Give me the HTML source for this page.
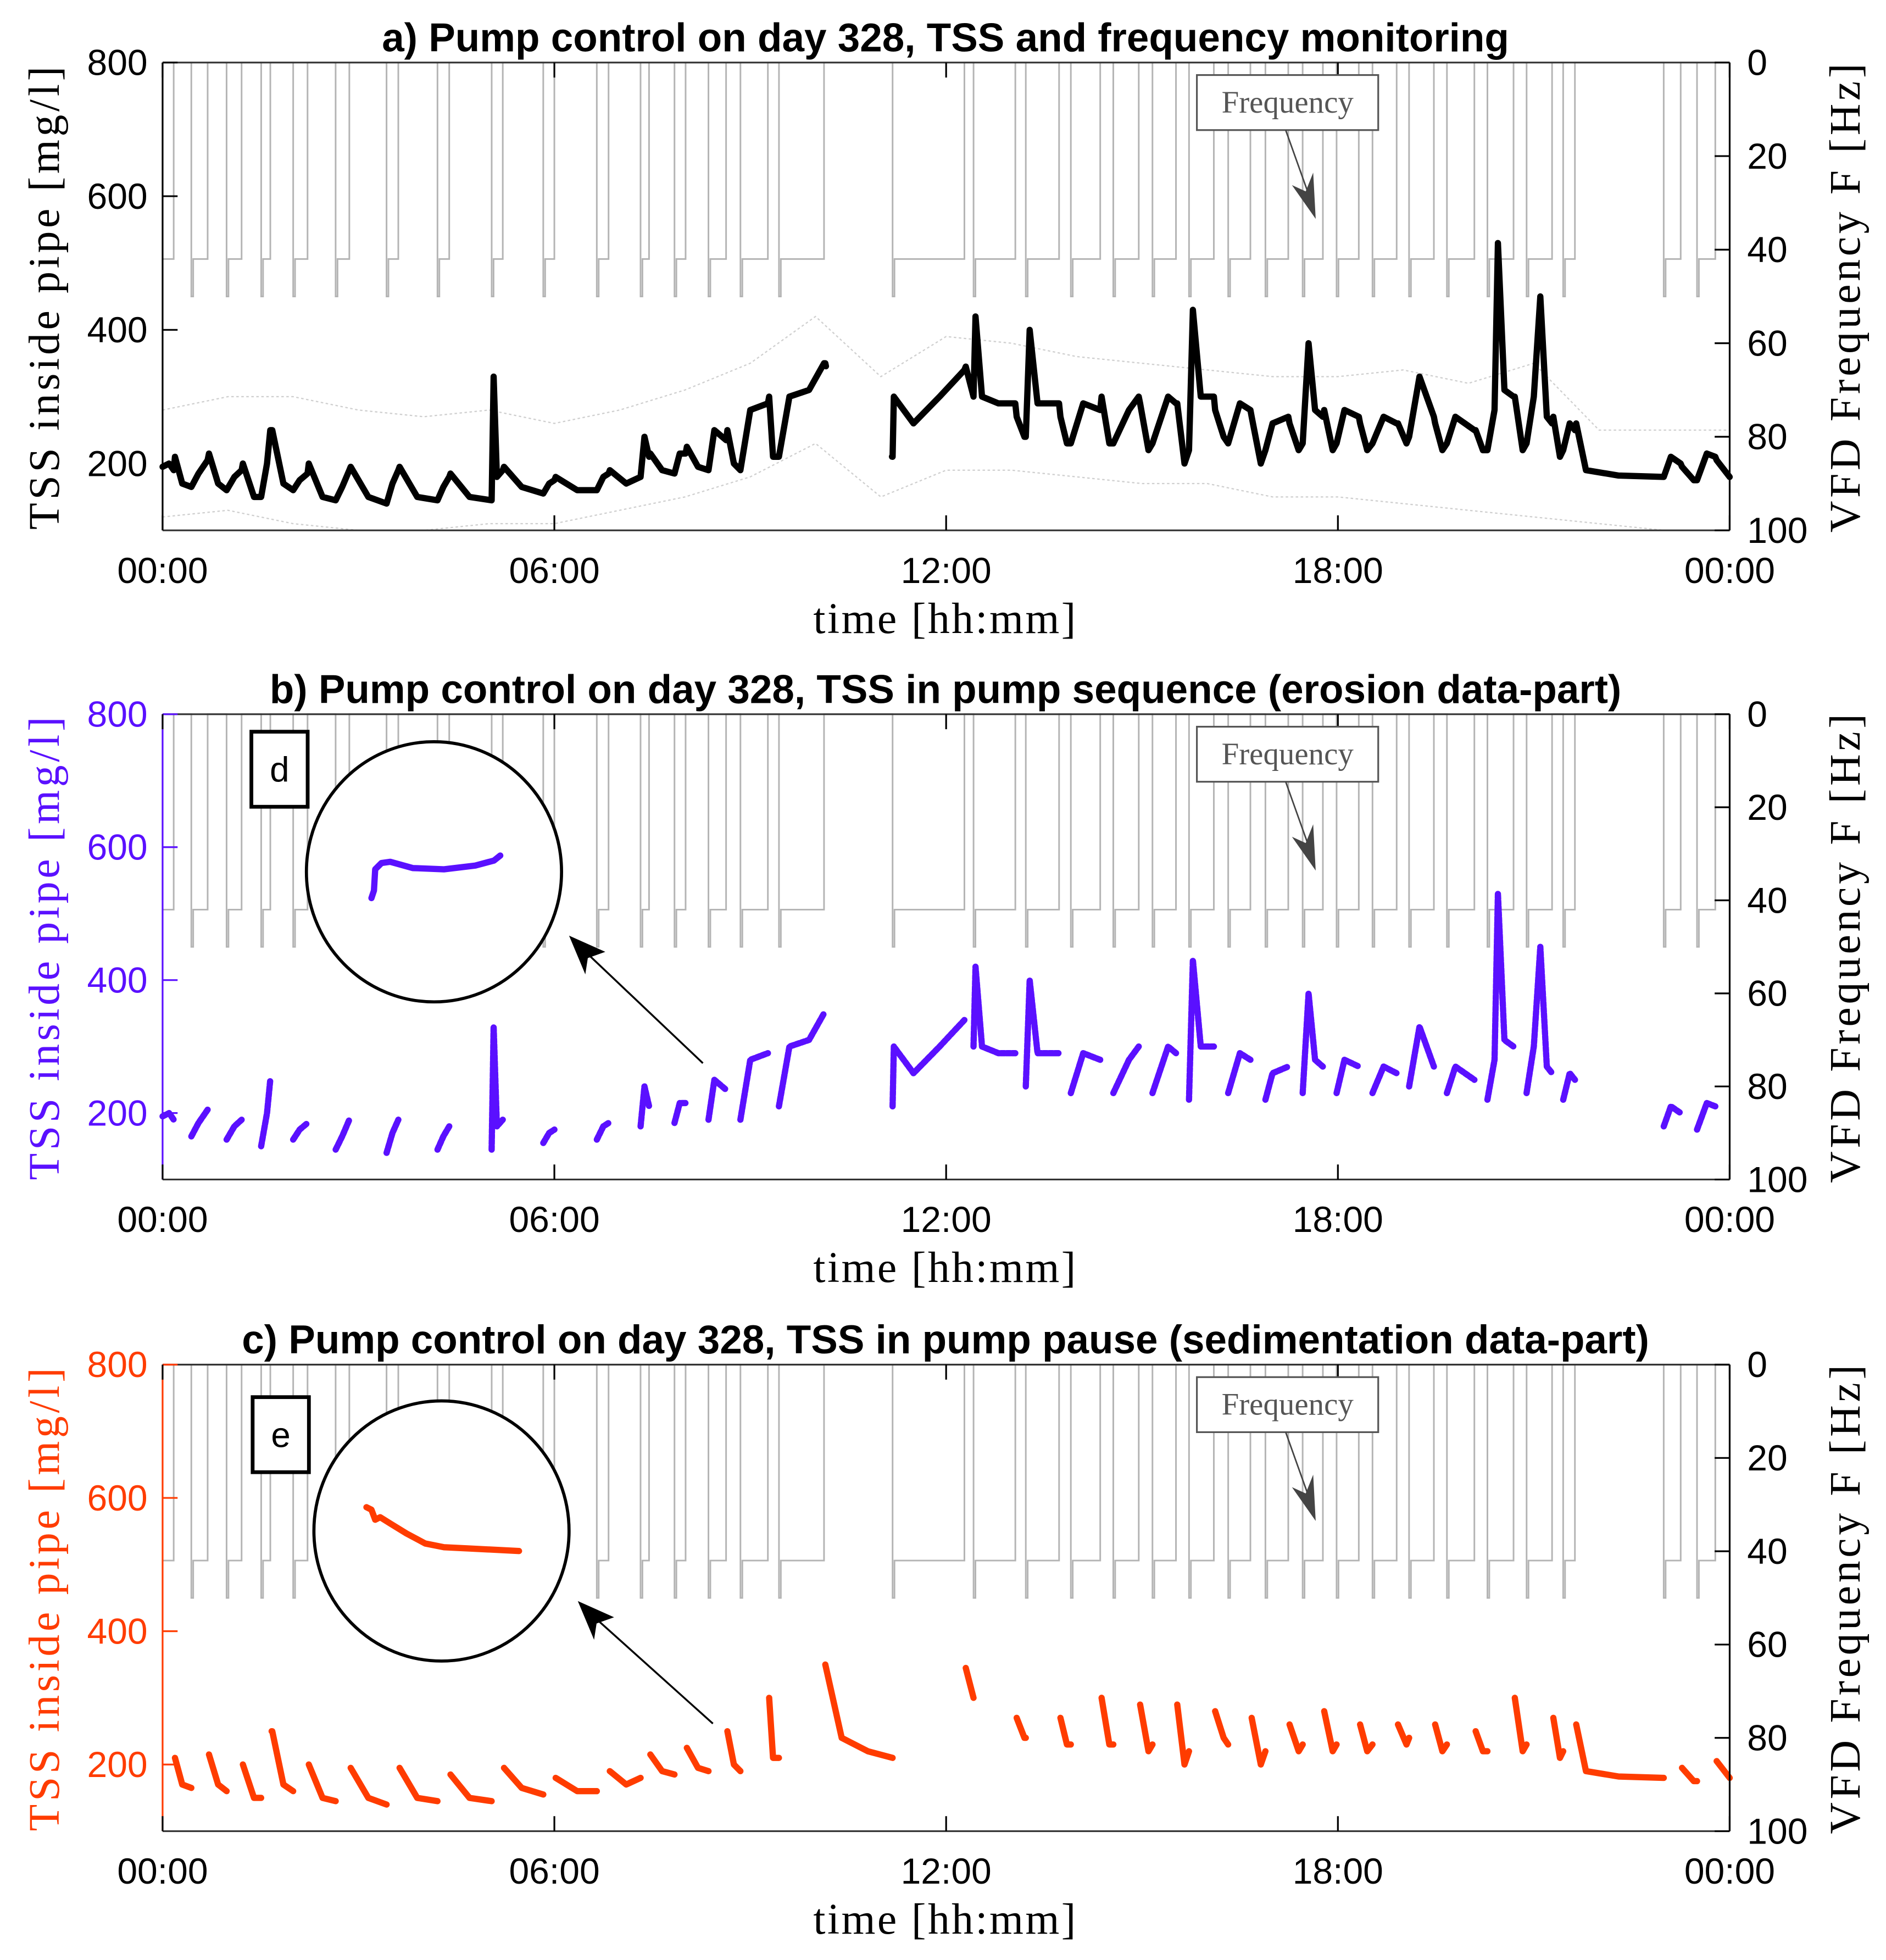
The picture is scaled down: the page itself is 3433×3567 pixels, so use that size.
<!DOCTYPE html>
<html><head><meta charset="utf-8"><style>
html,body{margin:0;padding:0;background:#fff;}
svg{display:block;}
text{font-family:"Liberation Sans",sans-serif;}
.serif{font-family:"Liberation Serif",serif;}
</style></head><body>
<svg id="fig" width="3433" height="3567" viewBox="0 0 1508 1567" preserveAspectRatio="none" xmlns="http://www.w3.org/2000/svg">
</svg>
<script>
// ---- data ----
const tssTimes = [0.00,0.10,0.17,0.19,0.30,0.44,0.55,0.69,0.71,0.85,0.98,1.10,1.21,1.23,1.40,1.51,1.60,1.65,1.68,1.85,2.00,2.10,2.22,2.24,2.45,2.65,2.75,2.86,2.88,3.15,3.43,3.52,3.61,3.63,3.90,4.21,4.30,4.39,4.41,4.70,5.04,5.07,5.12,5.21,5.23,5.50,5.83,5.92,6.00,6.02,6.35,6.65,6.75,6.83,6.85,7.10,7.32,7.38,7.45,7.47,7.65,7.84,7.92,8.01,8.03,8.20,8.36,8.45,8.63,8.65,8.75,8.85,9.00,9.27,9.29,9.35,9.44,9.60,9.90,10.13,10.15,10.40,10.80,11.18,11.20,11.50,11.90,12.28,12.30,12.42,12.45,12.55,12.80,13.06,13.08,13.20,13.22,13.28,13.40,13.73,13.75,13.85,13.91,14.10,14.36,14.38,14.50,14.56,14.80,14.95,14.97,15.10,15.16,15.40,15.52,15.54,15.65,15.72,15.78,15.90,16.10,16.12,16.25,16.32,16.50,16.66,16.68,16.82,16.89,17.00,17.24,17.26,17.40,17.46,17.55,17.65,17.77,17.79,17.92,17.98,18.10,18.32,18.34,18.45,18.53,18.70,18.90,18.92,19.05,19.09,19.25,19.47,19.49,19.60,19.67,19.80,20.09,20.11,20.22,20.29,20.40,20.45,20.55,20.69,20.71,20.83,20.89,21.00,21.10,21.20,21.28,21.30,21.40,21.45,21.55,21.63,21.65,21.80,22.30,22.99,23.10,23.25,23.27,23.45,23.50,23.65,23.78,23.80,24.00];
const tssValues = [195,200,190,210,170,165,185,205,215,170,160,180,190,200,150,150,200,250,250,170,160,175,185,200,150,145,165,190,195,150,140,170,190,195,150,145,165,180,185,150,145,330,180,190,195,165,155,170,175,180,160,160,180,185,190,170,180,240,210,215,190,185,215,215,225,195,190,250,235,250,200,190,280,290,300,210,210,300,310,350,350,240,220,210,300,260,300,340,345,300,420,300,290,290,270,240,240,400,290,290,270,230,230,290,280,300,230,230,280,300,290,220,230,300,290,290,200,220,430,300,300,280,240,230,290,280,270,200,220,260,270,260,220,230,380,280,270,280,220,230,280,270,260,220,230,270,260,260,230,240,330,270,260,220,230,270,250,250,220,220,280,530,310,300,300,220,230,300,450,270,260,270,210,220,260,250,260,190,182,180,210,200,195,175,175,215,210,205,180];
const bandHours = [0,1,2,3,4,5,6,7,8,9,10,11,12,13,14,15,16,17,18,19,20,21,22,23,24];
const bandUpper = [280,300,300,280,270,280,260,280,310,350,420,330,390,380,360,350,340,330,330,340,320,350,250,250,250];
const bandLower = [120,130,110,100,100,110,110,130,150,180,230,150,190,190,180,170,170,150,150,140,130,120,110,100,100];
const pumpStarts = [0,0.44,0.98,1.51,2.0,2.65,3.43,4.21,5.04,5.83,6.65,7.32,7.84,8.36,8.85,9.44,11.18,12.42,13.22,13.91,14.56,15.16,15.72,16.32,16.89,17.46,17.98,18.53,19.09,19.67,20.29,20.89,21.45,22.99,23.5];
const pumpEnds = [0.17,0.69,1.21,1.65,2.22,2.86,3.61,4.39,5.21,6.0,6.83,7.45,8.01,8.63,9.27,10.13,12.28,13.06,13.73,14.36,14.95,15.52,16.1,16.66,17.24,17.77,18.32,18.9,19.47,20.09,20.69,21.28,21.63,23.25,23.78];
const runFreq = 42;
const startFreq = 50;
const leftTicks = [200,400,600,800];
const rightTicks = [0,20,40,60,80,100];
const xTickHours = [0,6,12,18,24];
const xTickLabels = ["00:00","06:00","12:00","18:00","00:00"];

// ---- helpers ----
const NS="http://www.w3.org/2000/svg";
const svg=document.getElementById('fig');
function mk(tag,attrs,parent,txt){const e=document.createElementNS(NS,tag);for(const k in attrs)e.setAttribute(k,attrs[k]);if(txt!==undefined)e.textContent=txt;(parent||svg).appendChild(e);return e;}
const L=130,R=1383;
function X(t){return L+t/24*(R-L);}
function interp(t){for(let i=1;i<tssTimes.length;i++){if(t<=tssTimes[i]){const a=tssTimes[i-1],b=tssTimes[i];const f=(t-a)/(b-a||1);return tssValues[i-1]+f*(tssValues[i]-tssValues[i-1]);}}return tssValues[tssValues.length-1];}
function segPoints(s,e,Y){const pts=[[X(s),Y(interp(s))]];for(let i=0;i<tssTimes.length;i++){if(tssTimes[i]>s&&tssTimes[i]<e)pts.push([X(tssTimes[i]),Y(tssValues[i])]);}pts.push([X(e),Y(interp(e))]);return pts.map(p=>p[0].toFixed(1)+','+p[1].toFixed(1)).join(' ');}

const panels=[
 {id:'a',top:50,bot:424,title:'a) Pump control on day 328, TSS and frequency monitoring',axisColor:'#000',mode:'all',tssColor:'#000'},
 {id:'b',top:571,bot:943,title:'b) Pump control on day 328, TSS in pump sequence (erosion data-part)',axisColor:'#5a10ff',mode:'on',tssColor:'#5a10ff'},
 {id:'c',top:1091,bot:1464,title:'c) Pump control on day 328, TSS in pump pause (sedimentation data-part)',axisColor:'#ff3c00',mode:'off',tssColor:'#ff3c00'}
];

panels.forEach(p=>{
 const g=mk('g',{});
 
 
 const H=p.bot-p.top;
 const Y=v=>p.top+(800-v)/700*H;
 const F=f=>p.top+f/100*H;
 const t=mk('text',{x:756,y:p.top-9,'text-anchor':'middle','font-size':32,'font-weight':'bold'},g,p.title);
 
 
 let d='M'+X(0)+','+F(runFreq);
 for(let i=0;i<pumpStarts.length;i++){
   const s=X(pumpStarts[i]),e=X(pumpEnds[i]);
   if(i>0){d+=' L'+s+','+F(0)+' L'+s+','+F(startFreq)+' L'+(s+1.5)+','+F(startFreq)+' L'+(s+1.5)+','+F(runFreq);}
   d+=' L'+e+','+F(runFreq)+' L'+e+','+F(0);
 }
 d+=' L'+X(24)+','+F(0);
 const fp=mk('path',{d:d,fill:'none',stroke:'#b4b4b4','stroke-width':1.3},g);
 
 
 if(p.mode==='all'){
   const up=mk('polyline',{points:bandHours.map((h,i)=>X(h)+','+Y(bandUpper[i])).join(' '),fill:'none',stroke:'#cfcfcf','stroke-width':1,'stroke-dasharray':'2,2'},g);
   
   
   const lo=mk('polyline',{points:bandHours.map((h,i)=>X(h)+','+Y(bandLower[i])).join(' '),fill:'none',stroke:'#cfcfcf','stroke-width':1,'stroke-dasharray':'2,2'},g);
   
   
   const segs=[[0,10.16],[11.17,24]];
   segs.forEach(sg=>{
     const pl=mk('polyline',{points:segPoints(sg[0],sg[1],Y),fill:'none',stroke:p.tssColor,'stroke-width':5,'stroke-linejoin':'round','stroke-linecap':'round'},g);
     
     
   });
 } else {
   const ints=[];
   if(p.mode==='on'){for(let i=0;i<pumpStarts.length;i++)ints.push([pumpStarts[i],pumpEnds[i]]);}
   else{for(let i=0;i<pumpEnds.length;i++){const nx=i+1<pumpStarts.length?pumpStarts[i+1]:24;if(nx>pumpEnds[i])ints.push([pumpEnds[i]+0.02,nx]);}}
   ints.forEach(sg=>{
     const pl=mk('polyline',{points:segPoints(sg[0],sg[1],Y),fill:'none',stroke:p.tssColor,'stroke-width':5,'stroke-linejoin':'round','stroke-linecap':'round','stroke-dasharray':p.mode==='on'?'3,1.5':'none'},g);
     
     
   });
 }
 mk('line',{x1:L,y1:p.top,x2:R,y2:p.top,stroke:'#333','stroke-width':1.4},g);
 mk('line',{x1:L,y1:p.bot,x2:R,y2:p.bot,stroke:'#333','stroke-width':1.4},g);
 mk('line',{x1:R,y1:p.top,x2:R,y2:p.bot,stroke:'#000','stroke-width':1.4},g);
 const la=mk('line',{x1:L,y1:p.top,x2:L,y2:p.bot,stroke:p.axisColor,'stroke-width':1.4},g);
 
 
 leftTicks.forEach(v=>{
   mk('line',{x1:L,y1:Y(v),x2:L+12,y2:Y(v),stroke:p.axisColor,'stroke-width':1.4},g);
   const tl=mk('text',{x:L-12,y:Y(v)+10,'text-anchor':'end','font-size':29,fill:p.axisColor},g,String(v));
   
   
 });
 rightTicks.forEach(f=>{
   mk('line',{x1:R,y1:F(f),x2:R-12,y2:F(f),stroke:'#000','stroke-width':1.4},g);
   const tl=mk('text',{x:R+14,y:F(f)+10,'text-anchor':'start','font-size':29},g,String(f));
   
   
 });
 xTickHours.forEach((h,i)=>{
   mk('line',{x1:X(h),y1:p.bot,x2:X(h),y2:p.bot-12,stroke:'#000','stroke-width':1.4},g);
   mk('line',{x1:X(h),y1:p.top,x2:X(h),y2:p.top+12,stroke:'#000','stroke-width':1.4},g);
   const tl=mk('text',{x:X(h),y:p.bot+42,'text-anchor':'middle','font-size':29},g,xTickLabels[i]);
   
   
 });
 const xt=mk('text',{x:756,y:p.bot+82,'text-anchor':'middle','font-size':35,'letter-spacing':1.5,class:'serif'},g,'time [hh:mm]');
 
 
 const cy=(p.top+p.bot)/2;
 const yt=mk('text',{x:0,y:0,transform:'translate(47,'+cy+') rotate(-90)','text-anchor':'middle','font-size':35,'letter-spacing':2.5,class:'serif',fill:p.axisColor},g,'TSS inside pipe [mg/l]');
 
 
 const rt=mk('text',{x:0,y:0,transform:'translate(1487,'+cy+') rotate(-90)','text-anchor':'middle','font-size':35,'letter-spacing':2.5,class:'serif'},g,'VFD Frequency F [Hz]');
 
 
 const fy=p.top+10;
 mk('rect',{x:957,y:fy,width:145,height:44,fill:'#fff',stroke:'#555','stroke-width':1.4},g);
 const ft=mk('text',{x:1029.5,y:fy+30,'text-anchor':'middle','font-size':25,class:'serif',fill:'#555'},g,'Frequency');
 
 
 mk('line',{x1:1028,y1:fy+44,x2:1048,y2:fy+100,stroke:'#444','stroke-width':1.2},g);
 mk('polygon',{points:(1052)+','+(fy+115)+' '+(1033)+','+(fy+88)+' '+(1044)+','+(fy+93)+' '+(1050)+','+(fy+78),fill:'#444'},g);
});

function inset(cx,cy,label,bx,by,ax1,ay1,ax2,ay2,pts,color,nm){
 const g=mk('g',{});
 
 
 mk('rect',{x:bx,y:by,width:45,height:60,fill:'#fff',stroke:'#000','stroke-width':3},g);
 mk('text',{x:bx+22.5,y:by+40,'text-anchor':'middle','font-size':28},g,label);
 mk('ellipse',{cx:cx,cy:cy,rx:102,ry:104,fill:'#fff',stroke:'#000','stroke-width':2.5},g);
 mk('polyline',{points:pts,fill:'none',stroke:color,'stroke-width':5,'stroke-linecap':'round','stroke-linejoin':'round'},g);
 mk('line',{x1:ax1,y1:ay1,x2:ax2+10,y2:ay2+10,stroke:'#000','stroke-width':1.5},g);
 mk('polygon',{points:ax2+','+ay2+' '+(ax2+29)+','+(ay2+13)+' '+(ax2+15)+','+(ay2+18)+' '+(ax2+13)+','+(ay2+31),fill:'#000'},g);
}
inset(347,697,'d',201,585,562,850,455,748,'297,718 299,712 300,695 305,690 312,689 330,694 355,695 380,692 395,688 400,684','#5a10ff','inset-d');
inset(353,1224,'e',202,1117,570,1378,462,1280,'293,1205 297,1207 300,1215 304,1213 312,1218 325,1226 340,1234 355,1237 375,1238 415,1240','#ff3c00','inset-e');
</script>
</body></html>
